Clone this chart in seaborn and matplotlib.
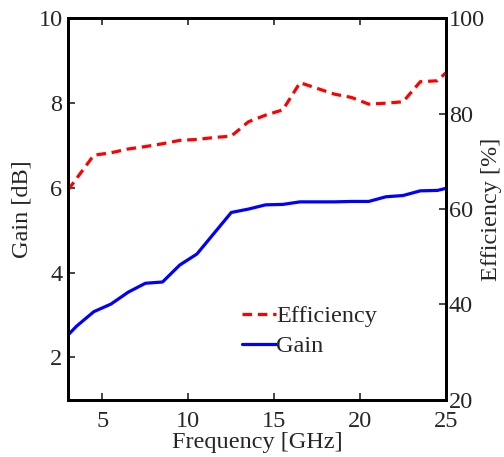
import matplotlib
matplotlib.use("Agg")
import matplotlib.pyplot as plt
import seaborn as sns
import pandas as pd
from matplotlib.lines import Line2D

freq = [3, 3.5, 4.5, 5.5, 6.5, 7.5, 8.5, 9.5, 10.5, 11.5, 12.5, 13.5, 14.5, 15.5,
        16.5, 17.5, 18.5, 19.5, 20.5, 21.5, 22.5, 23.5, 24.5, 25]
gain = [2.53, 2.74, 3.08, 3.26, 3.54, 3.75, 3.78, 4.18, 4.44, 4.93, 5.42, 5.50, 5.60, 5.61,
        5.67, 5.67, 5.67, 5.68, 5.68, 5.79, 5.82, 5.93, 5.94, 5.99]
eff_freq = [3, 4.5, 5.5, 6.5, 7.5, 8.5, 9.5, 10.5, 11.5, 12.5, 13.5, 14.5, 15.5,
            16.5, 17.5, 18.5, 19.5, 20.5, 21.5, 22.5, 23.5, 24.5, 25]
efficiency = [64.0, 71.3, 71.8, 72.6, 73.1, 73.7, 74.4, 74.6, 75.0, 75.3, 78.3, 79.7, 80.8,
              86.5, 85.3, 84.1, 83.4, 82.0, 82.2, 82.5, 86.7, 86.9, 88.6]

sns.set_style("ticks")
plt.rcParams['font.family'] = ['Liberation Serif', 'DejaVu Serif']
fs = 17.5
dash = (0, (3, 1.8))

fig = plt.figure(figsize=(5.04, 4.57), dpi=100)
ax = fig.add_axes([0.135, 0.125, 0.75, 0.835])
ax2 = ax.twinx()

df_g = pd.DataFrame({"f": freq, "g": gain})
df_e = pd.DataFrame({"f": eff_freq, "e": efficiency})
sns.lineplot(data=df_g, x="f", y="g", ax=ax, color="#0000ff", lw=2.3)
sns.lineplot(data=df_e, x="f", y="e", ax=ax2, color="#ff0000", lw=2.3)
for l in ax2.get_lines():
    l.set_linestyle(dash)

ax.set_xlim(3, 25)
ax.set_ylim(1, 10)
ax2.set_ylim(20, 100)
ax.set_xticks([5, 10, 15, 20, 25])
ax.set_yticks([2, 4, 6, 8, 10])
ax2.set_yticks([20, 40, 60, 80, 100])
ax.set_xlabel("Frequency [GHz]", fontsize=fs, labelpad=0)
ax.set_ylabel("Gain [dB]", fontsize=fs, labelpad=4)
ax2.set_ylabel("Efficiency [%]", fontsize=fs, labelpad=-3)

ax.tick_params(axis='x', direction='in', labelsize=fs, length=5, width=1.2,
               top=True, pad=8)
ax.tick_params(axis='y', direction='in', labelsize=fs, length=5, width=1.2, pad=4)
ax2.tick_params(axis='y', direction='in', labelsize=fs, length=5, width=1.2, pad=2)
for a in (ax, ax2):
    for s in a.spines.values():
        s.set_linewidth(2)
        s.set_color("black")

handles = [Line2D([], [], color="#ff0000", lw=2.3, linestyle=dash),
           Line2D([], [], color="#0000ff", lw=2.3)]
ax.legend(handles, ["Efficiency", "Gain"], loc="lower left", bbox_to_anchor=(0.46, 0.112),
          frameon=False, fontsize=fs, handlelength=1.4, handletextpad=0.0,
          labelspacing=0.32, borderaxespad=0, borderpad=0)

fig.savefig("out.png", dpi=100)
